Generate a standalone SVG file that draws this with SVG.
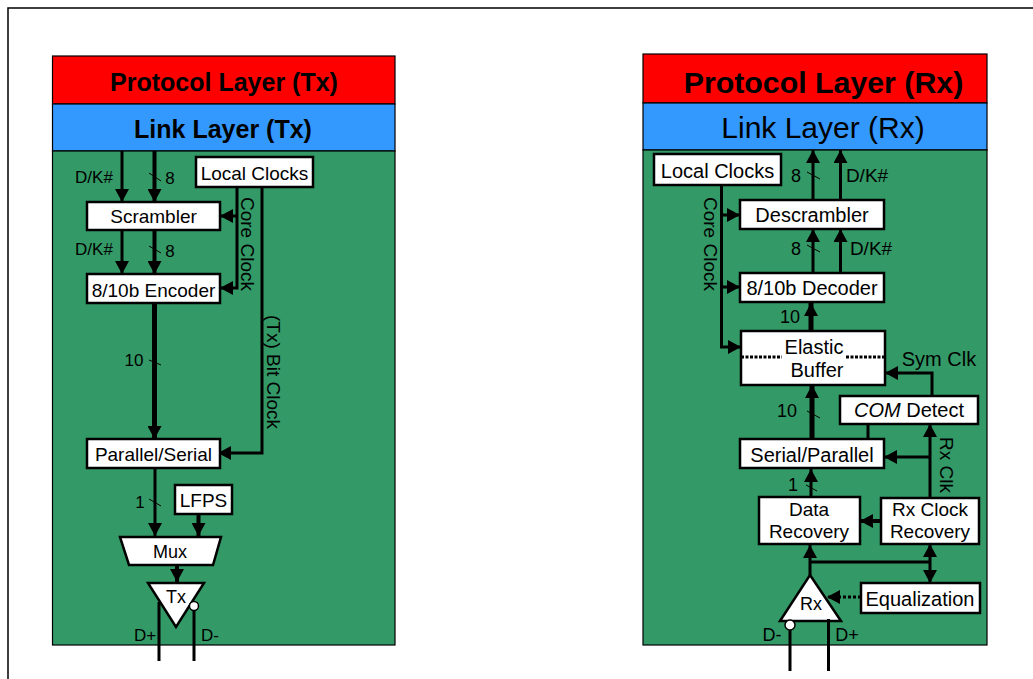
<svg xmlns="http://www.w3.org/2000/svg" width="1033" height="679" viewBox="0 0 1033 679">
<style>
text{font-family:"Liberation Sans",Arial,sans-serif;font-size:19px;fill:#000;text-anchor:middle}
.r{font-size:20px}
.lab{font-size:17px}
.v{font-size:19px;text-anchor:start}
.b{fill:#fff;stroke:#000;stroke-width:2.5}
.p{stroke:#000;stroke-width:1.2}
.c{fill:none;stroke:#000;stroke-width:3}
.c4{fill:none;stroke:#000;stroke-width:4}
.c5{fill:none;stroke:#000;stroke-width:5}
.t{fill:none;stroke:#000;stroke-width:1}
</style>
<defs>
<marker id="a" viewBox="0 0 13 14" refX="13" refY="7" markerWidth="13" markerHeight="14" markerUnits="userSpaceOnUse" orient="auto-start-reverse"><path d="M0 0L13 7L0 14Z" fill="#000"/></marker>
</defs>
<rect width="1033" height="679" fill="#fff"/>
<path d="M8 679V8H1033" fill="none" stroke="#000" stroke-width="1.5"/>
<g id="tx-panel">
<rect class="p" x="52.5" y="56" width="342.500" height="48" fill="#ff0000"/>
<rect class="p" x="52.5" y="104" width="342.500" height="47" fill="#3399ff"/>
<rect class="p" x="52.5" y="151" width="342.500" height="494" fill="#339966"/>
<text x="224" y="91" style="font-size:25px;font-weight:bold">Protocol Layer (Tx)</text>
<text x="223" y="138" style="font-size:25px;font-weight:bold">Link Layer (Tx)</text>
</g>
<g id="rx-panel">
<rect class="p" x="643" y="54" width="344" height="49" fill="#ff0000"/>
<rect class="p" x="643" y="103" width="344" height="47" fill="#3399ff"/>
<rect class="p" x="643" y="150" width="344" height="495" fill="#339966"/>
<text x="823.500" y="93" style="font-size:30.300px;font-weight:bold">Protocol Layer (Rx)</text>
<text x="823" y="138" style="font-size:30px">Link Layer (Rx)</text>
</g>
<g id="connectors">
<path class="c" d="M122 151V202" marker-end="url(#a)"/>
<path class="c4" d="M154.500 151V202" marker-end="url(#a)"/>
<path class="c" d="M122 230V274" marker-end="url(#a)"/>
<path class="c4" d="M154.500 230V274" marker-end="url(#a)"/>
<path class="c" d="M237 187V288H220" marker-end="url(#a)"/>
<path class="c" d="M237 216H220" marker-end="url(#a)"/>
<path class="c" d="M262 187V453H218" marker-end="url(#a)"/>
<path class="c5" d="M154.500 303V439" marker-end="url(#a)"/>
<path class="c" d="M155 468V536" marker-end="url(#a)"/>
<path class="c4" d="M198.500 514V536" marker-end="url(#a)"/>
<path class="c4" d="M177 565V582" marker-end="url(#a)"/>
<path class="t" d="M149 173L161 181M149 246L161 253M149 360L161 365M149 499L161 506"/>
<path class="c" d="M813 200V150" marker-end="url(#a)"/>
<path class="c" d="M840.500 200V150" marker-end="url(#a)"/>
<path class="c" d="M813 273V229" marker-end="url(#a)"/>
<path class="c" d="M840.500 273V229" marker-end="url(#a)"/>
<path class="c5" d="M811 331V303" marker-end="url(#a)"/>
<path class="c5" d="M812 439V385" marker-end="url(#a)"/>
<path class="c" d="M721.500 185V347H741" marker-end="url(#a)"/>
<path class="c" d="M721.500 215H740" marker-end="url(#a)"/>
<path class="c" d="M721.500 287H740" marker-end="url(#a)"/>
<path class="c" d="M932 396V373H885" marker-end="url(#a)"/>
<path class="c" d="M868 424V439"/>
<path class="c" d="M930 497V424" marker-end="url(#a)"/>
<path class="c" d="M930 457H884" marker-end="url(#a)"/>
<path class="c4" d="M881 521H860" marker-end="url(#a)"/>
<path class="c" d="M811 497V469" marker-end="url(#a)"/>
<path class="c" d="M810 575V545" marker-end="url(#a)"/>
<path class="c" d="M810 562H930"/>
<path class="c" d="M930 583V544" marker-start="url(#a)" marker-end="url(#a)"/>
<path class="c" stroke-dasharray="3 2" d="M861 597H827" marker-end="url(#a)"/>
<path class="t" d="M807 172L820 179M807 245L820 252M807 411L820 418M806 485L817 491"/>
</g>
<g id="tx-local-clocks"><rect class="b" x="196" y="157" width="117" height="30"/><text x="254.500" y="180">Local Clocks</text></g>
<g id="scrambler"><rect class="b" x="87" y="202" width="133" height="28"/><text x="153.500" y="223">Scrambler</text></g>
<g id="encoder"><rect class="b" x="87" y="274" width="133" height="29"/><text x="153.500" y="297">8/10b Encoder</text></g>
<g id="parallel-serial"><rect class="b" x="87" y="439" width="133" height="29"/><text x="153.500" y="461">Parallel/Serial</text></g>
<g id="lfps"><rect class="b" x="175" y="485" width="57" height="29"/><text x="203.500" y="507">LFPS</text></g>
<g id="mux"><path class="b" d="M120 537H221L213 565H129Z"/><text x="170" y="558" style="font-size:18px">Mux</text></g>
<g id="tx"><path class="b" d="M148 583H204L176 627Z"/><text x="176" y="603" style="font-size:18px">Tx</text></g>
<g id="tx-lines"><path class="c" d="M159 602V661M194 610V661"/><circle cx="194" cy="606" r="4.500" fill="#fff" stroke="#000" stroke-width="1.5"/></g>
<g id="rx-local-clocks"><rect class="b" x="654" y="154" width="127" height="31"/><text class="r" x="717.500" y="178">Local Clocks</text></g>
<g id="descrambler"><rect class="b" x="740" y="200" width="144" height="29"/><text class="r" x="812" y="222">Descrambler</text></g>
<g id="decoder"><rect class="b" x="740" y="273" width="144" height="29"/><text class="r" x="812" y="295">8/10b Decoder</text></g>
<g id="elastic"><rect class="b" x="741" y="331" width="144" height="54"/><path d="M741 357H782M846 357H885" fill="none" stroke="#000" stroke-width="3" stroke-dasharray="3 1.500"/><text class="r"><tspan x="814" y="354">Elastic</tspan><tspan x="817" y="377">Buffer</tspan></text></g>
<g id="com-detect"><rect class="b" x="840" y="396" width="138" height="28"/><text class="r" x="909" y="417"><tspan font-style="italic">COM</tspan> Detect</text></g>
<g id="serial-parallel"><rect class="b" x="740" y="439" width="144" height="29"/><text class="r" x="812" y="462">Serial/Parallel</text></g>
<g id="data-recovery"><rect class="b" x="759" y="497" width="101" height="47"/><text><tspan x="809" y="515.500">Data</tspan><tspan x="809" y="537.500">Recovery</tspan></text></g>
<g id="clock-recovery"><rect class="b" x="881" y="498" width="98" height="46"/><text><tspan x="930" y="515.500">Rx Clock</tspan><tspan x="930" y="537.500">Recovery</tspan></text></g>
<g id="equalization"><rect class="b" x="861" y="583" width="119" height="30"/><text class="r" x="920" y="606">Equalization</text></g>
<g id="rx"><path class="b" d="M810 575L841 621H780Z"/><text x="811" y="610" style="font-size:18px">Rx</text></g>
<g id="rx-lines"><path class="c" d="M790 630V671M828.500 619V671"/><circle cx="790" cy="625" r="5" fill="#fff" stroke="#000" stroke-width="1.5"/></g>
<g id="labels">
<text class="lab" x="94" y="183">D/K#</text><text class="lab" x="170" y="184">8</text>
<text class="lab" x="94" y="255">D/K#</text><text class="lab" x="170" y="257">8</text>
<text class="lab" x="134" y="366">10</text><text class="lab" x="140" y="508">1</text>
<text class="lab" x="145" y="641">D+</text><text class="lab" x="210" y="641">D-</text>
<text class="v" transform="translate(240.500 197) rotate(90)">Core Clock</text>
<text class="v" transform="translate(266.500 315) rotate(90)">(Tx) Bit Clock</text>
<text class="lab" x="796" y="182" style="font-size:18px">8</text><text class="r" x="867" y="182" style="font-size:19px">D/K#</text>
<text class="lab" x="796" y="255" style="font-size:18px">8</text><text class="r" x="871" y="255" style="font-size:19px">D/K#</text>
<text class="lab" x="790" y="323" style="font-size:18px">10</text><text class="lab" x="787" y="417" style="font-size:18px">10</text>
<text class="lab" x="793" y="491" style="font-size:18px">1</text>
<text class="r" x="939" y="366" style="font-size:20px">Sym Clk</text>
<text class="v" transform="translate(703.500 197) rotate(90)">Core Clock</text>
<text class="v" transform="translate(939.500 437) rotate(90)">Rx Clk</text>
<text class="lab" x="772" y="641" style="font-size:18px">D-</text><text class="lab" x="847" y="641" style="font-size:18px">D+</text>
</g>
</svg>
